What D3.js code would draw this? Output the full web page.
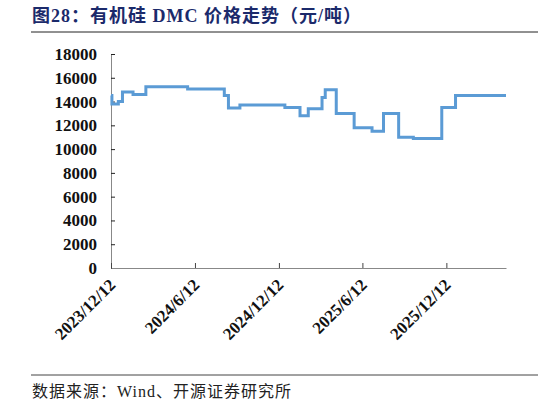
<!DOCTYPE html>
<html>
<head>
<meta charset="utf-8">
<script src="https://cdn.jsdelivr.net/npm/d3@7"></script>
<style>
  body { margin: 0; background: #fff; }
  svg { display: block; }
</style>
</head>
<body>
<svg id="chart" width="546" height="405"></svg>
<script>
// 1. Data: DMC price (元/吨), step changes
var priceDates = [
    "2023-12-12", "2023-12-14", "2023-12-28", "2024-01-06", "2024-01-29",
    "2024-02-26", "2024-05-27", "2024-08-15", "2024-08-24", "2024-09-18",
    "2024-12-25", "2025-01-27", "2025-02-14", "2025-03-16", "2025-03-23",
    "2025-04-16", "2025-05-25", "2025-07-03", "2025-07-28", "2025-08-30",
    "2025-10-01", "2025-12-02", "2026-01-01", "2026-04-21"
];
var priceValues = [
    14500, 13800, 14000, 14800, 14600,
    15250, 15050, 14500, 13450, 13700,
    13500, 12800, 13400, 14350, 15000,
    13000, 11800, 11500, 13000, 11000,
    10900, 13500, 14500, 14500
];
var xTickDates = ["2023-12-12", "2024-06-12", "2024-12-12", "2025-06-12", "2025-12-12"];
var yTickValues = [0, 2000, 4000, 6000, 8000, 10000, 12000, 14000, 16000, 18000];

var titleText = "图28：有机硅 DMC 价格走势（元/吨）";
var sourceText = "数据来源：Wind、开源证券研究所";

// 2. Scales
var parseDate = d3.timeParse("%Y-%m-%d");
var data = priceDates.map(function (d, i) { return { date: parseDate(d), value: priceValues[i] } });

var svg = d3.select("#chart");

var x = d3.scaleTime()
    .domain(d3.extent(data, function (d) { return d.date }))
    .range([111, 506]);

var y = d3.scaleLinear()
    .domain([0, 18000])
    .range([268, 54]);

// 3. Title, rules, source
var serif = "'Liberation Serif', 'Noto Sans CJK SC', serif";

svg.append("text")
    .attr("x", 32)
    .attr("y", 22)
    .style("font-family", serif)
    .style("font-size", "18px")
    .style("letter-spacing", "1px")
    .style("font-weight", "bold")
    .style("fill", "#1b2a6b")
    .text(titleText);

svg.append("line")
    .attr("x1", 31).attr("x2", 538)
    .attr("y1", 32).attr("y2", 32)
    .attr("stroke", "#222").attr("stroke-width", 1);

svg.append("line")
    .attr("x1", 31).attr("x2", 538)
    .attr("y1", 375).attr("y2", 375)
    .attr("stroke", "#444").attr("stroke-width", 1);

svg.append("text")
    .attr("x", 32)
    .attr("y", 397)
    .style("font-family", serif)
    .style("font-size", "16px")
    .style("letter-spacing", "1px")
    .style("fill", "#222")
    .text(sourceText);

// 4. Axes
var yAxis = d3.axisLeft(y)
    .tickValues(yTickValues)
    .tickSizeInner(-4)
    .tickSizeOuter(0)
    .tickPadding(14)
    .tickFormat(d3.format("d"));

var yAxisG = svg.append("g")
    .attr("transform", "translate(111,0)")
    .call(yAxis);

yAxisG.select(".domain").attr("stroke", "#888");
yAxisG.selectAll(".tick line").attr("stroke", "#222");
yAxisG.selectAll("text")
    .style("font-family", serif)
    .style("font-size", "17px")
    .style("font-weight", "bold")
    .style("fill", "#111");

var fmtTick = function (d) { return d.getFullYear() + "/" + (d.getMonth() + 1) + "/" + d.getDate() };

var xAxis = d3.axisBottom(x)
    .tickValues(xTickDates.map(parseDate))
    .tickSizeInner(-5)
    .tickSizeOuter(0)
    .tickFormat(fmtTick);

var xAxisG = svg.append("g")
    .attr("transform", "translate(0,268)")
    .call(xAxis);

xAxisG.select(".domain").attr("stroke", "#888");
xAxisG.selectAll(".tick line").attr("stroke", "#444");
xAxisG.selectAll("text")
    .attr("y", 0)
    .attr("dy", 0)
    .attr("transform", "translate(5,18) rotate(-45)")
    .style("text-anchor", "end")
    .style("font-family", serif)
    .style("font-size", "17px")
    .style("font-weight", "bold")
    .style("fill", "#111");

// 5. Price line
var line = d3.line()
    .x(function (d) { return x(d.date) })
    .y(function (d) { return y(d.value) })
    .curve(d3.curveStepAfter);

svg.append("path")
    .datum(data)
    .attr("d", line)
    .attr("fill", "none")
    .attr("stroke", "#5b9bd5")
    .attr("stroke-width", 3)
    .attr("stroke-linejoin", "miter");
</script>
</body>
</html>
